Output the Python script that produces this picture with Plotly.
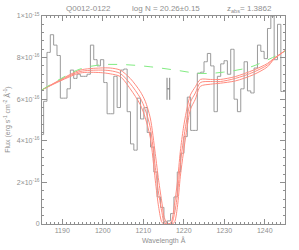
import plotly.graph_objects as go

# ---- data (flux in units of 1e-16 erg s^-1 cm^-2 A^-1) ----
wave = [1184.99, 1185.81, 1186.64, 1187.46, 1188.29, 1189.11, 1189.94, 1190.76, 1191.59, 1192.41,
        1193.24, 1194.06, 1194.89, 1195.71, 1196.54, 1197.36, 1198.19, 1199.01, 1199.84, 1200.66,
        1201.49, 1202.31, 1203.14, 1203.96, 1204.79, 1205.61, 1206.44, 1207.26, 1208.09, 1208.91,
        1209.74, 1210.56, 1211.39, 1212.21, 1213.04, 1213.86, 1214.69, 1215.51, 1216.34, 1217.16,
        1217.99, 1218.81, 1219.64, 1220.46, 1221.29, 1222.11, 1222.94, 1223.76, 1224.59, 1225.41,
        1226.24, 1227.06, 1227.89, 1228.71, 1229.54, 1230.36, 1231.19, 1232.01, 1232.84, 1233.66,
        1234.49, 1235.31, 1236.14, 1236.96, 1237.79, 1238.61, 1239.44, 1240.26, 1241.09, 1241.91,
        1242.74, 1243.56, 1244.39, 1245.21]
flux = [4.3, 5.9, 8.25, 9.1, 8.6, 8.1, 6.05, 6.05, 6.5, 7.4,
        7.0, 7.2, 7.1, 7.1, 7.2, 8.6, 7.9, 7.6, 7.9, 6.8,
        5.3, 5.3, 7.1, 5.6, 7.4, 7.45, 5.4, 3.85, 3.55, 6.05,
        5.05, 5.6, 4.4, 3.7, 2.5, 1.3, 0.8, 0.1, 0.15, 0.5,
        1.3, 2.5, 3.4, 4.2, 6.1, 4.5, 4.5, 7.25, 7.3, 7.8,
        8.2, 7.6, 5.4, 7.1, 7.7, 7.85, 7.2, 8.4, 6.0, 5.4,
        6.5, 7.8, 6.4, 6.3, 7.5, 8.6, 8.3, 7.95, 9.4, 10.0,
        7.9, 9.6, 6.37, 6.37]

cont_wave = [1185.0, 1189.5, 1194.4, 1199.4, 1205.5, 1211.7, 1217.9, 1224.1, 1229.8, 1236.5, 1241.9, 1245.0]
cont_flux = [6.45, 6.97, 7.45, 7.65, 7.66, 7.56, 7.40, 7.24, 7.30, 7.55, 8.00, 8.30]

model_wave = [1185.0, 1189.46, 1194.41, 1199.36, 1201.83, 1204.31, 1206.78, 1209.26, 1210.50, 1211.73,
              1212.97, 1213.79, 1214.63, 1215.20, 1216.19, 1216.93, 1217.67, 1218.42, 1219.16, 1219.90,
              1220.64, 1221.63, 1222.87, 1224.11, 1226.58, 1229.06, 1232.77, 1237.23, 1240.69, 1242.18,
              1245.0]
model_low = [6.45, 6.93, 7.40, 7.50, 7.50, 7.40, 7.00, 6.37, 5.90, 5.10,
             3.38, 2.11, 1.00, 0.30, 0.0, 0.10, 0.90, 2.00, 3.50, 4.60,
             5.40, 6.20, 6.60, 6.95, 6.95, 6.95, 7.09, 7.40, 7.72, 7.95,
             8.33]
model_mid = [6.45, 6.90, 7.33, 7.40, 7.37, 7.24, 6.75, 6.06, 5.50, 4.64,
             2.73, 1.49, 0.54, 0.05, 0.0, 0.0, 0.45, 1.40, 2.90, 4.00,
             4.90, 5.85, 6.30, 6.80, 6.85, 6.85, 7.00, 7.30, 7.65, 7.93,
             8.33]
model_high = [6.45, 6.87, 7.26, 7.28, 7.22, 7.09, 6.50, 5.74, 5.10, 4.16,
              2.11, 0.83, 0.07, 0.0, 0.0, 0.0, 0.07, 0.80, 2.30, 3.40,
              4.40, 5.50, 6.00, 6.62, 6.72, 6.77, 6.88, 7.18, 7.56, 7.90,
              8.33]

err_wave = [1216.2]
err_flux = [6.5]
err_dw = [0.33]

ytick_vals = [0, 2, 4, 6, 8, 10]
ytick_text = ["0", "2×10<sup>-16</sup>", "4×10<sup>-16</sup>", "6×10<sup>-16</sup>",
              "8×10<sup>-16</sup>", "1×10<sup>-15</sup>"]
xtick_vals = [1190, 1200, 1210, 1220, 1230, 1240]

GRAY = "#8f8f8f"
RED = "rgb(255,140,128)"
GREEN = "rgb(130,235,130)"
FONT = "Liberation Sans"

fig = go.Figure()
fig.add_trace(go.Scatter(x=wave, y=flux, mode="lines", hoverinfo="skip",
                         line=dict(shape="hvh", color="#9a9a9a", width=1)))
for m in (model_low, model_mid, model_high):
    fig.add_trace(go.Scatter(x=model_wave, y=m, mode="lines", hoverinfo="skip",
                             line=dict(shape="spline", smoothing=0.8, color=RED, width=1)))
fig.add_trace(go.Scatter(x=cont_wave, y=cont_flux, mode="lines", hoverinfo="skip",
                         line=dict(shape="spline", color=GREEN, width=1, dash="dash")))
fig.add_trace(go.Scatter(x=err_wave, y=err_flux, mode="markers", hoverinfo="skip",
                         marker=dict(size=1, color=GRAY),
                         error_x=dict(type="data", array=err_dw, color="#808080", thickness=1, width=11)))

axis_common = dict(showline=True, linecolor=GRAY, linewidth=1, mirror="allticks", ticks="inside",
                   tickcolor=GRAY, showgrid=False, zeroline=False,
                   tickfont=dict(family=FONT, size=7, color=GRAY))
fig.update_xaxes(range=[1185, 1245], tickvals=xtick_vals, ticklen=5,
                 minor=dict(dtick=1, ticklen=2, ticks="inside", tickcolor=GRAY), **axis_common)
fig.update_yaxes(range=[0, 10], tickvals=ytick_vals, ticktext=ytick_text, ticklen=5,
                 minor=dict(dtick=0.4, ticklen=2, ticks="inside", tickcolor=GRAY), **axis_common)

ann_font = dict(family=FONT, size=8, color=GRAY)
def ann(text, x, y, font, angle=0):
    return dict(text=text, x=x, y=y, xref="paper", yref="paper", xanchor="center", yanchor="middle",
                showarrow=False, font=font, textangle=angle)

fig.update_layout(
    width=299, height=250, showlegend=False,
    margin=dict(l=42, r=14, t=13, b=26),
    paper_bgcolor="white", plot_bgcolor="white",
    annotations=[
        ann("Q0012-0122", 0.19, 1.035, ann_font),
        ann("log N = 20.26±0.15", 0.51, 1.035, ann_font),
        ann("z<sub>abs</sub>= 1.3862", 0.855, 1.035, ann_font),
        ann("Flux (erg s<sup>-1</sup> cm<sup>-2</sup> Å<sup>-1</sup>)", -0.145, 0.5,
            dict(family=FONT, size=7, color=GRAY), -90),
        ann("Wavelength Å", 0.5, -0.078, dict(family=FONT, size=7, color=GRAY)),
    ],
)

fig.write_html("out.html", config={"displayModeBar": False, "staticPlot": True},
               post_script="document.body.style.margin='0';document.body.style.padding='0';")
